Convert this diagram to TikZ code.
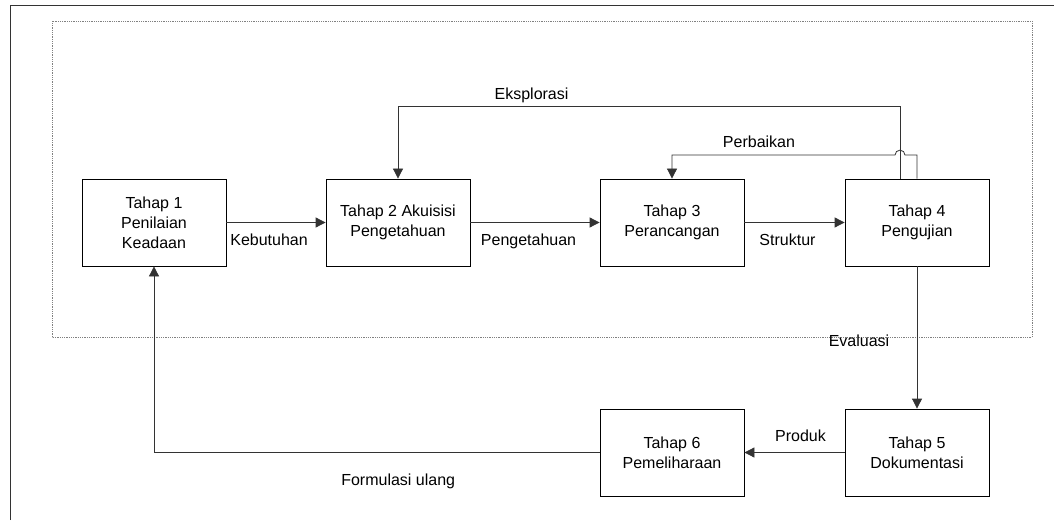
\documentclass[tikz,border=0pt]{standalone}
\usepackage{fontspec}
\setmainfont{Liberation Sans}
\usetikzlibrary{positioning,arrows.meta}

\begin{document}
\begin{tikzpicture}[x=1pt,y=1pt,node distance=245pt,on grid,
    font=\fontsize{16}{20}\selectfont,
    >={Triangle[length=10pt,width=10pt]},
    tahap/.style={draw,line width=0.8pt,minimum width=144pt,minimum height=87pt,align=center,inner sep=2pt},
    alur/.style={->,line width=0.8pt,draw=black!80}]
			\useasboundingbox (0,0) rectangle (1054,520);
			\draw[black!80,line width=1pt] (10,0) -- (10,514) -- (1054,514);
			\draw[gray,densely dotted,line width=0.8pt] (52,183) rectangle (1032,499);
			\node[tahap] (t1) at (154,297.5)		{Tahap 1\\Penilaian\\Keadaan};
			\node[tahap] (t2) [right=244pt of t1]	{Tahap 2 Akuisisi\\Pengetahuan};
			\node[tahap] (t3) [right=274pt of t2]	{Tahap 3\\Perancangan};
			\node[tahap] (t4) [right of=t3]			{Tahap 4\\Pengujian};
			\node[tahap] (t5) [below=230pt of t4]	{Tahap 5\\Dokumentasi};
			\node[tahap] (t6) [left of=t5]			{Tahap 6\\Pemeliharaan};
			\coordinate (ek) at ([xshift=-17pt]t4.north);
			\draw[alur] (t1) -- node[pos=.43,below=7.5pt] {Kebutuhan} (t2);
			\draw[alur] (t2) -- node[pos=.45,below=7.5pt] {Pengetahuan} (t3);
			\draw[alur] (t3) -- node[pos=.43,below=7.5pt] {Struktur} (t4);
			\draw[alur] (ek) -- ++(0,72) -| node[pos=.367,above] {Eksplorasi} (t2.north);
			\path (t4.north) -- ++(0,23.5) coordinate (pb);
			\coordinate (kx) at (pb -| ek);
			\draw[alur] (t4.north) -- (pb) -- ([xshift=5pt]kx) arc[start angle=0,end angle=180,radius=5pt]
				-| node[pos=.305,above=4pt] {Perbaikan} (t3.north);
			\draw[alur] (t4) -- node[pos=.52,left=24pt] {Evaluasi} (t5);
			\draw[alur] (t5) -- node[pos=.44,above=7pt] {Produk} (t6);
			\draw[alur] (t6) -| node[pos=.226,below=18pt] {Formulasi ulang} (t1);
		\end{tikzpicture}
\end{document}
